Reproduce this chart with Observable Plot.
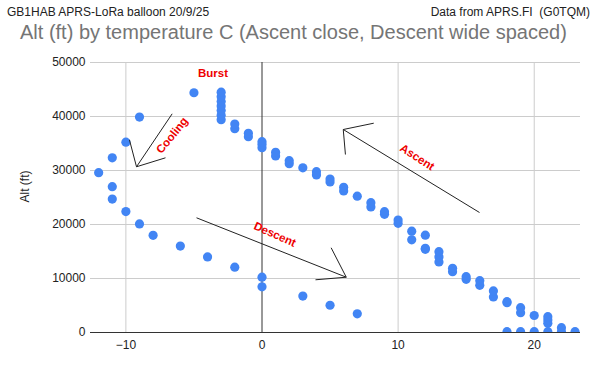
<!DOCTYPE html>
<html>
<head>
<meta charset="utf-8">
<script src="https://cdn.jsdelivr.net/npm/d3@7"></script>
<script src="https://cdn.jsdelivr.net/npm/@observablehq/plot@0.6"></script>
<style>
  html, body { margin: 0; padding: 0; background: #fff; }
  #wrap { position: relative; width: 600px; height: 371px; font-family: "Liberation Sans", Arial, sans-serif; }
  #header { position: relative; width: 600px; height: 50px; }
  .t { position: absolute; line-height: 1; white-space: pre; }
  #tl { left: 7px; top: 6px; font-size: 12px; color: #222; }
  #tr { right: 10px; top: 6px; font-size: 12px; color: #222; }
  #title { left: 20px; top: 22px; font-size: 20px; color: #757575; }
  #chart svg { display: block; }
</style>
</head>
<body>
<div id="wrap">
  <div id="header">
    <div class="t" id="tl"></div>
    <div class="t" id="tr"></div>
    <div class="t" id="title"></div>
  </div>
  <div id="chart"></div>
</div>
<script>
// ---- texts ----
const topLeftText = "GB1HAB APRS-LoRa balloon 20/9/25";
const topRightText = "Data from APRS.FI  (G0TQM)";
const titleText = "Alt (ft) by temperature C (Ascent close, Descent wide spaced)";
const yLabel = "Alt (ft)";

// ---- ticks ----
const xTicks = [-10, 0, 10, 20];
const yTicks = [0, 10000, 20000, 30000, 40000, 50000];

// ---- ascent (temperature C, altitude ft) ----
const ascentTemp = [
  23,
  22, 22,
  21, 21, 21, 21,
  20, 20,
  19, 19, 19,
  18, 18, 18,
  17, 17,
  16, 16,
  15, 15,
  14, 14,
  13, 13, 13,
  12, 12, 12,
  11, 11,
  10, 10,
  9, 9,
  8, 8,
  7,
  6, 6,
  5, 5,
  4, 4,
  3,
  2, 2,
  1, 1,
  0, 0, 0,
  -1, -1,
  -2, -2,
  -3, -3, -3, -3, -3, -3, -3
];
const ascentAlt = [
  150,
  150, 900,
  150, 1700, 2300, 2930,
  150, 3150,
  150, 3670, 4590,
  150, 5520, 5700,
  6570, 7690,
  8740, 9590,
  9850, 10330,
  11260, 11890,
  13060, 14000, 14960,
  15400, 15600, 18020,
  17170, 18760,
  20220, 20830,
  21890, 22370,
  23240, 24040,
  25240,
  26200, 26890,
  27870, 28430,
  29170, 29780,
  30500,
  31260, 31820,
  32690, 33370,
  34230, 34800, 35340,
  36260, 36890,
  37740, 38610,
  39400, 40250, 41100, 41950, 42800, 43650, 44500
];

// ---- descent ----
const descentTemp = [-5, -9, -10, -11, -12, -11, -11, -10, -9, -8, -6, -4, -2, 0, 0, 3, 5, 7];
const descentAlt  = [44400, 39900, 35250, 32350, 29600, 27000, 24700, 22400, 20100, 18000, 16000, 14000, 12100, 10250, 8450, 6750, 5050, 3450];

// ---- annotations (data coordinates) ----
const noteText   = ["Burst", "Cooling", "Ascent", "Descent"];
const noteTemp   = [-3.6, -6.6, 11.4, 0.95];
const noteAlt    = [48000, 36500, 32450, 18150];
const noteAngle  = [0, -51, 33, 24];

// arrow segments: [x1, y1, x2, y2]
const arrowX1 = [-6.6, -9.22, -9.22,  15.98, 5.97, 5.97,  -4.81, 6.19, 6.19];
const arrowY1 = [40500, 30690, 30690, 22220, 37590, 37590, 21240, 10240, 10240];
const arrowX2 = [-9.22, -9.74, -7.09, 5.97, 8.21, 6.13,  6.19, 5.08, 3.93];
const arrowY2 = [30690, 35690, 32350, 37590, 38760, 32960, 10240, 15690, 9760];

document.getElementById("tl").textContent = topLeftText;
document.getElementById("tr").textContent = topRightText;
document.getElementById("title").textContent = titleText;

const points = ascentTemp.map((t, i) => ({temp: t, alt: ascentAlt[i]}))
  .concat(descentTemp.map((t, i) => ({temp: t, alt: descentAlt[i]})));
const notes = noteText.map((s, i) => ({text: s, temp: noteTemp[i], alt: noteAlt[i], angle: noteAngle[i]}));
const arrows = arrowX1.map((v, i) => ({x1: v, y1: arrowY1[i], x2: arrowX2[i], y2: arrowY2[i]}));

const chart = Plot.plot({
  width: 600,
  height: 321,
  marginLeft: 90,
  marginRight: 20,
  marginTop: 12,
  marginBottom: 39,
  style: {fontFamily: "'Liberation Sans', Arial, sans-serif", fontSize: "12px", color: "#222", background: "#fff"},
  x: {domain: [-12.6, 23.4], ticks: xTicks, tickSize: 0, tickPadding: 8, label: null},
  y: {domain: [0, 50000], ticks: yTicks, tickSize: 0, tickPadding: 5, label: null, tickFormat: d => String(d)},
  marks: [
    Plot.gridY(yTicks.filter(d => d !== 0), {stroke: "#cccccc", strokeOpacity: 1}),
    Plot.gridX(xTicks.filter(d => d !== 0), {stroke: "#cccccc", strokeOpacity: 1}),
    Plot.ruleX([0], {stroke: "#333"}),
    Plot.ruleY([0], {stroke: "#333"}),
    Plot.dot(points, {x: "temp", y: "alt", r: 4.6, fill: "#4285F4", stroke: "none", clip: true}),
    Plot.link(arrows, {x1: "x1", y1: "y1", x2: "x2", y2: "y2", stroke: "#222", strokeWidth: 1}),
    Plot.text(notes, {x: "temp", y: "alt", text: "text", rotate: "angle", fill: "#ee0000", fontWeight: "bold", fontSize: 11.5}),
    Plot.text([yLabel], {frameAnchor: "left", dx: -65, dy: 5, rotate: -90, fill: "#222", fontSize: 12})
  ]
});
document.getElementById("chart").appendChild(chart);
</script>
</body>
</html>
